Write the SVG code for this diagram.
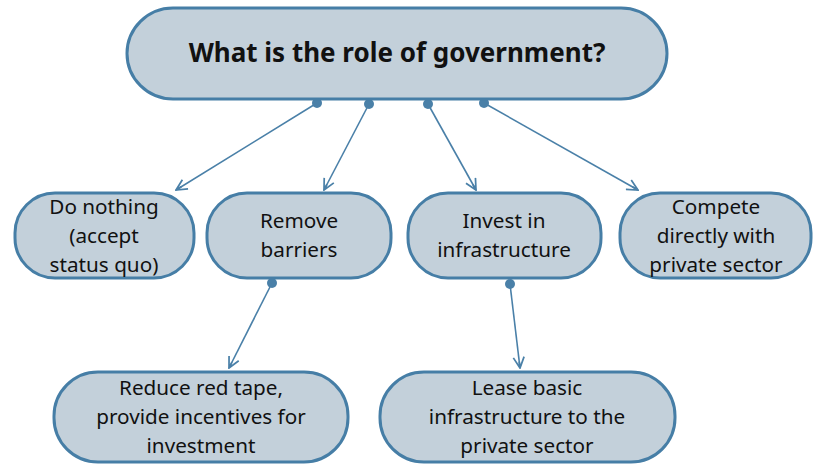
<svg xmlns="http://www.w3.org/2000/svg" width="817" height="464" viewBox="0 0 817 464">
<style>
.node rect{fill:#c3d0da;stroke:#467ea6;stroke-width:3}
.node text{font-family:"Noto Sans",Lato,sans-serif;font-size:20.7px;fill:#111;text-anchor:middle}
.title text{font-weight:bold;font-size:26px}
.conn line{stroke:#4a80a8;stroke-width:1.6}
.conn circle{fill:#4a80a8}
</style>
<defs>
<marker id="arr" viewBox="0 0 12 12" refX="11" refY="6" markerWidth="13" markerHeight="13" markerUnits="userSpaceOnUse" orient="auto">
<path d="M1,1 L11,6 L1,11 M11,6 L5,6" fill="none" stroke="#4a80a8" stroke-width="1.6"/>
</marker>
</defs>
<g class="conn">
<line x1="317" y1="103" x2="176" y2="190" marker-end="url(#arr)"/>
<line x1="369" y1="104" x2="324" y2="190" marker-end="url(#arr)"/>
<line x1="428" y1="104" x2="476" y2="190" marker-end="url(#arr)"/>
<line x1="484" y1="103" x2="638" y2="190" marker-end="url(#arr)"/>
<line x1="272" y1="283" x2="229" y2="368" marker-end="url(#arr)"/>
<line x1="510" y1="284" x2="520" y2="368" marker-end="url(#arr)"/>
<circle cx="317" cy="103" r="5"/>
<circle cx="369" cy="104" r="5"/>
<circle cx="428" cy="104" r="5"/>
<circle cx="484" cy="103" r="5"/>
<circle cx="272" cy="283" r="5"/>
<circle cx="510" cy="284" r="5"/>
</g>
<g id="n0" class="node title">
<rect x="127" y="8" width="540" height="91" rx="46" ry="46"/>
<text x="397" y="62">What is the role of government?</text>
</g>
<g id="n1" class="node">
<rect x="15" y="193" width="179" height="85" rx="40" ry="40"/>
<text x="104" y="214">Do nothing</text>
<text x="104" y="243">(accept</text>
<text x="104" y="272">status quo)</text>
</g>
<g id="n2" class="node">
<rect x="207" y="193" width="184" height="85" rx="40" ry="40"/>
<text x="299" y="228">Remove</text>
<text x="299" y="257">barriers</text>
</g>
<g id="n3" class="node">
<rect x="408" y="193" width="193" height="85" rx="40" ry="40"/>
<text x="504" y="228">Invest in</text>
<text x="504" y="257">infrastructure</text>
</g>
<g id="n4" class="node">
<rect x="620" y="193" width="191" height="85" rx="40" ry="40"/>
<text x="716" y="214">Compete</text>
<text x="716" y="243">directly with</text>
<text x="716" y="272">private sector</text>
</g>
<g id="n5" class="node">
<rect x="54" y="372" width="294" height="90" rx="44" ry="44"/>
<text x="201" y="395">Reduce red tape,</text>
<text x="201" y="424">provide incentives for</text>
<text x="201" y="453">investment</text>
</g>
<g id="n6" class="node">
<rect x="380" y="372" width="295" height="90" rx="44" ry="44"/>
<text x="527" y="395">Lease basic</text>
<text x="527" y="424">infrastructure to the</text>
<text x="527" y="453">private sector</text>
</g>
</svg>
